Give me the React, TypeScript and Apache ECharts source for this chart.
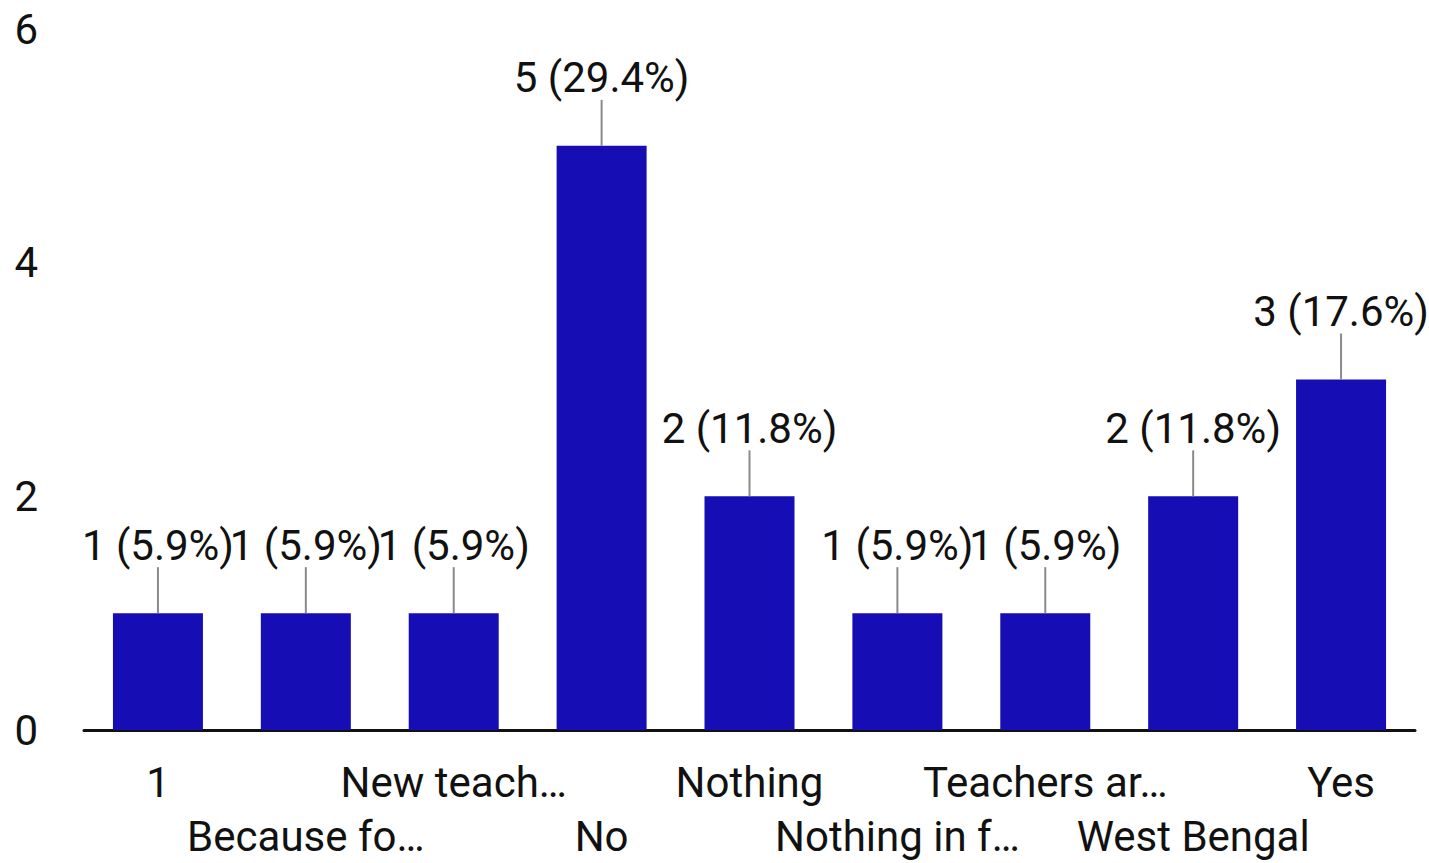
import React, { useEffect, useRef } from "react";
import * as echarts from "echarts";

const categories = [
  "1",
  "Because fo…",
  "New teach…",
  "No",
  "Nothing",
  "Nothing in f…",
  "Teachers ar…",
  "West Bengal",
  "Yes",
];
const counts = [1, 1, 1, 5, 2, 1, 1, 2, 3];
const percents = ["5.9", "5.9", "5.9", "29.4", "11.8", "5.9", "5.9", "11.8", "17.6"];
const yTicks = [0, 2, 4, 6];

const FONT = "Roboto";
const BAR = "#170db5";

export default function App() {
  const ref = useRef<HTMLDivElement>(null);
  useEffect(() => {
    document.body.style.margin = "0";
    const chart = echarts.init(ref.current!, null, { renderer: "svg" });
    chart.setOption({
      animation: false,
      grid: { left: 84, right: 14, top: 29, bottom: 128 },
      xAxis: {
        type: "category",
        data: categories,
        axisLine: { lineStyle: { color: "#111", width: 3 } },
        axisTick: { show: false },
        axisLabel: {
          interval: 0,
          fontFamily: FONT,
          fontSize: 42,
          color: "#111",
          lineHeight: 54,
          margin: 25,
          formatter: (v: string, i: number) => (i % 2 === 1 ? "\n" + v : v),
        },
      },
      yAxis: {
        type: "value",
        min: yTicks[0],
        max: yTicks[yTicks.length - 1],
        interval: 2,
        axisLine: { show: false },
        axisTick: { show: false },
        splitLine: { show: false },
        axisLabel: { fontFamily: FONT, fontSize: 42, color: "#111", margin: 46 },
      },
      series: [
        {
          type: "bar",
          data: counts,
          barWidth: 90,
          itemStyle: { color: BAR },
          label: {
            show: true,
            position: "top",
            distance: 47,
            fontFamily: FONT,
            fontSize: 42,
            color: "#111",
            formatter: (p: any) => `${p.value} (${percents[p.dataIndex]}%)`,
          },
          z: 2,
        },
        {
          type: "custom",
          data: counts.map((v, i) => [i, v]),
          encode: { x: 0, y: 1 },
          renderItem: (_params: any, api: any) => {
            const p = api.coord([api.value(0), api.value(1)]);
            return {
              type: "line",
              shape: { x1: p[0], y1: p[1], x2: p[0], y2: p[1] - 46 },
              style: { stroke: "#8a8a8a", lineWidth: 2 },
            };
          },
          z: 3,
        },
      ],
    });
    return () => chart.dispose();
  }, []);
  return <div ref={ref} style={{ width: 1429, height: 863 }} />;
}
